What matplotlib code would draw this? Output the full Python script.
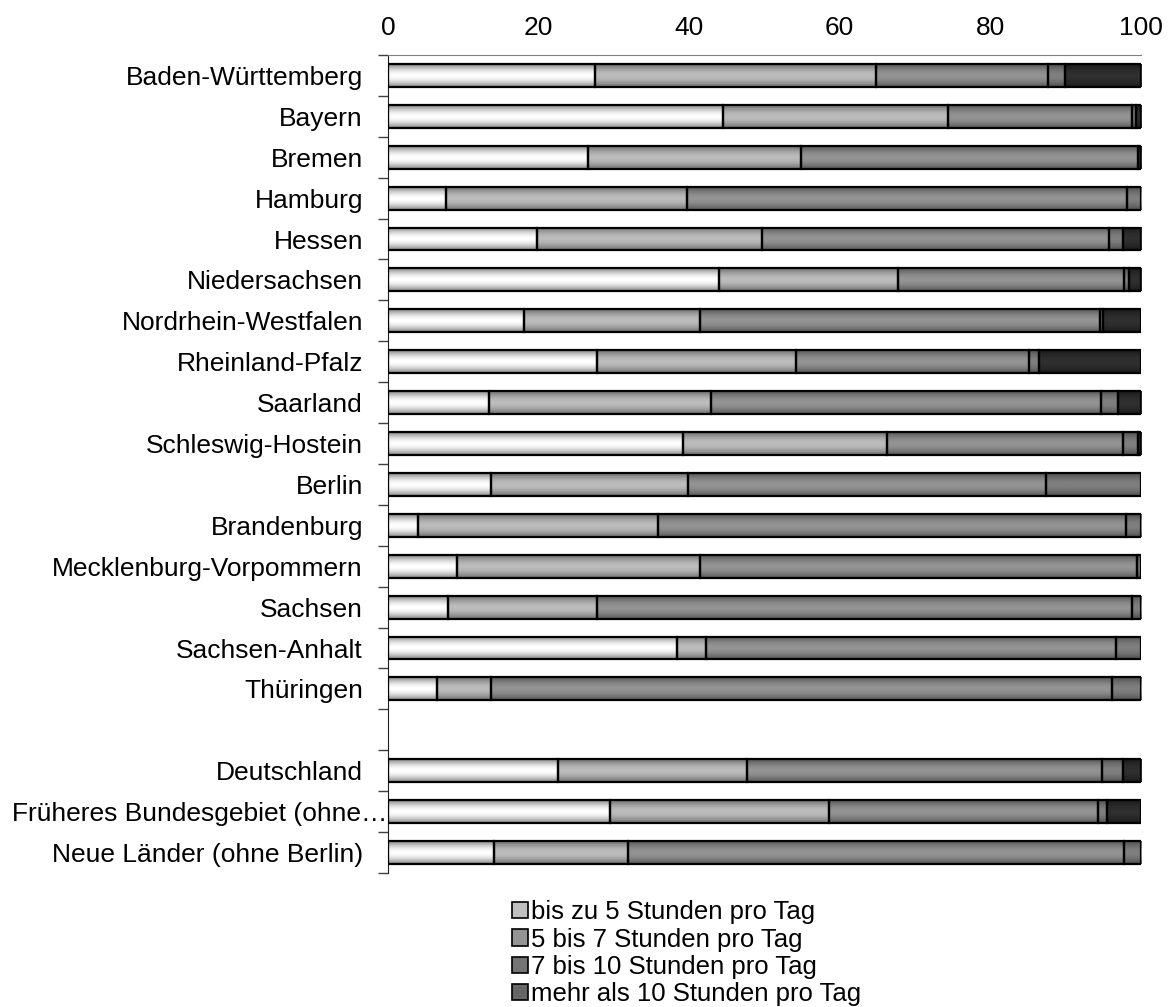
import matplotlib
matplotlib.use("Agg")
import matplotlib.pyplot as plt
from matplotlib.patches import Patch
from matplotlib.transforms import ScaledTranslation
import numpy as np

plt.rcParams['font.family'] = ['Liberation Sans', 'DejaVu Sans']

# Bundesländer, leere Zeile trennt die Zusammenfassungen
laender = ["Baden-Württemberg", "Bayern", "Bremen", "Hamburg", "Hessen",
           "Niedersachsen", "Nordrhein-Westfalen", "Rheinland-Pfalz", "Saarland",
           "Schleswig-Hostein", "Berlin", "Brandenburg", "Mecklenburg-Vorpommern",
           "Sachsen", "Sachsen-Anhalt", "Thüringen", "",
           "Deutschland", "Früheres Bundesgebiet (ohne…", "Neue Länder (ohne Berlin)"]

# Anteile in Prozent (ohne die leere Zeile)
bis5   = [27.5, 44.5, 26.6, 7.7, 19.8, 44.0, 18.1, 27.7, 13.4, 39.2, 13.7, 4.0, 9.2, 8.0, 38.4, 6.5, 22.6, 29.5, 14.1]
h5_7   = [37.3, 29.9, 28.2, 32.0, 29.9, 23.7, 23.3, 26.5, 29.5, 27.1, 26.1, 31.9, 32.2, 19.7, 3.8, 7.2, 25.1, 29.1, 17.8]
h7_10  = [22.8, 24.4, 44.8, 58.4, 46.1, 30.0, 53.2, 30.9, 51.8, 31.3, 47.6, 62.1, 58.1, 71.1, 54.5, 82.4, 47.1, 35.7, 65.8]
mehr10 = [2.3, 0.5, 0.0, 1.9, 1.8, 0.7, 0.4, 1.4, 2.2, 2.0, 12.6, 2.0, 0.5, 1.2, 3.3, 3.9, 2.8, 1.2, 2.3]
rest   = [10.1, 0.7, 0.4, 0.0, 2.4, 1.6, 5.0, 13.5, 3.1, 0.4, 0.0, 0.0, 0.0, 0.0, 0.0, 0.0, 2.4, 4.5, 0.0]

serien = [bis5, h5_7, h7_10, mehr10, rest]
namen = ["bis zu 5 Stunden pro Tag", "5 bis 7 Stunden pro Tag",
         "7 bis 10 Stunden pro Tag", "mehr als 10 Stunden pro Tag", None]
# (Mitte, Rand) Helligkeit des Verlaufs
grau = [(1.0, 0.50), (0.74, 0.42), (0.58, 0.33), (0.50, 0.30), (0.19, 0.10)]

ypos = [i for i in range(len(laender)) if laender[i] != ""]

fig = plt.figure(figsize=(11.72, 10.07), dpi=100)
ax = fig.add_axes([0.331, 0.1331, 0.6425, 0.8123])

t = np.linspace(0, 1, 64)
profil = 1 - np.abs(2 * t - 1) ** 1.8

links = np.zeros(len(ypos))
for werte, (mitte, rand) in zip(serien, grau):
    werte = np.array(werte)
    bars = ax.barh(ypos, werte, left=links, height=0.56, facecolor='none',
                   edgecolor='black', linewidth=1.6, zorder=3)
    verlauf = (rand + (mitte - rand) * profil)[:, None]
    for b, w in zip(bars, werte):
        if w <= 0:
            b.set_visible(False)
            continue
        bb = b.get_bbox()
        ax.imshow(verlauf, cmap='gray', vmin=0, vmax=1, aspect='auto',
                  extent=[bb.x0, bb.x1, bb.y1, bb.y0], interpolation='bilinear',
                  zorder=2)
    links += werte

ax.set_xlim(0, 100)
ax.set_ylim(len(laender) - 0.5, -0.5)
ax.set_aspect('auto')

ax.xaxis.tick_top()
ax.set_xticks(range(0, 101, 20))
ax.tick_params(axis='x', length=0, pad=11, labelsize=19)

ax.set_yticks(range(len(laender)))
ax.set_yticklabels(laender)
ax.set_yticks(np.arange(-0.5, len(laender)), minor=True)
ax.tick_params(axis='y', which='major', length=0, pad=18, labelsize=19)
ax.tick_params(axis='y', which='minor', length=7, width=1, color='#404040')

# der gekürzte lange Name ragt bis an die Achse heran
lang = ax.get_yticklabels()[laender.index("Früheres Bundesgebiet (ohne…")]
lang.set_transform(lang.get_transform() + ScaledTranslation(0.24, 0, fig.dpi_scale_trans))

for s in ['right', 'bottom']:
    ax.spines[s].set_visible(False)
ax.spines['top'].set_color('#808080')
ax.spines['left'].set_color('#202020')

handles = [Patch(facecolor=(0.5 * (m + r),) * 3, edgecolor='black', linewidth=1.2, label=n)
           for n, (m, r) in zip(namen, grau) if n]
fig.legend(handles=handles, loc='upper left', bbox_to_anchor=(0.437, 0.106),
           frameon=False, fontsize=18.5, handlelength=0.6, handleheight=0.6,
           handletextpad=0.15, labelspacing=0.13, borderpad=0, borderaxespad=0)

fig.savefig("out.png", dpi=100)
